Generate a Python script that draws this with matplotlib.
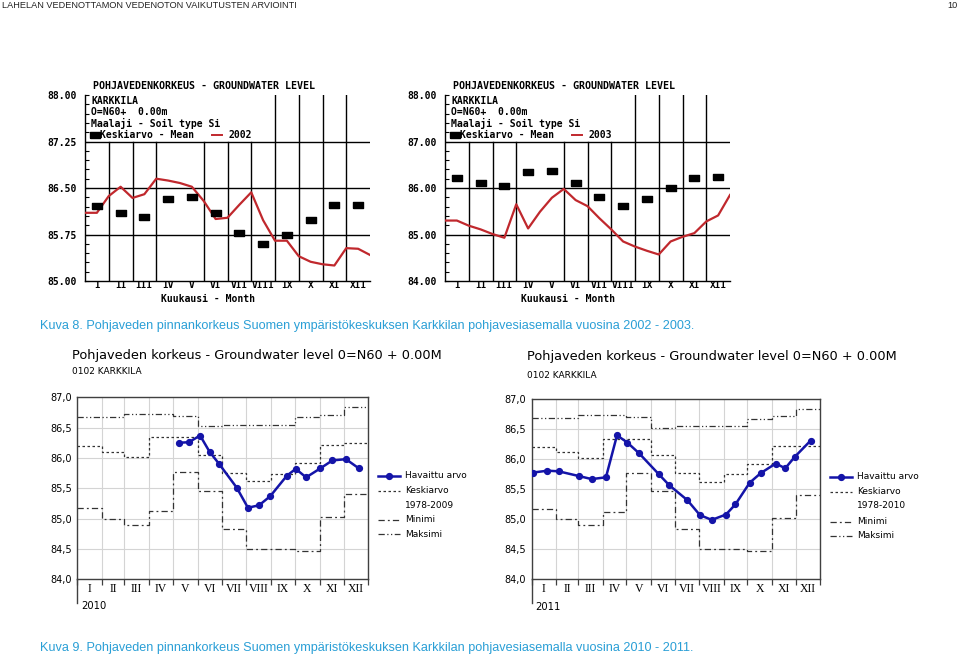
import numpy as np
import matplotlib
matplotlib.use('Agg')
import matplotlib.pyplot as plt
from matplotlib.lines import Line2D

W, H = 960, 654
fig = plt.figure(figsize=(9.6, 6.54), dpi=100)
fig.patch.set_facecolor('white')


def fx(px):
    return px / W


def fy(py):
    return 1 - py / H


# ---------------- data ----------------
months_roman = ['I', 'II', 'III', 'IV', 'V', 'VI', 'VII', 'VIII', 'IX', 'X', 'XI', 'XII']

# top charts: half-month positions (month units)
half_month_pos = np.arange(0, 12.5, 0.5)
level_2002 = [86.10, 86.10, 86.37, 86.52, 86.34, 86.40, 86.65, 86.62, 86.58, 86.52,
              86.29, 86.00, 86.02, 86.23, 86.43, 85.98, 85.65, 85.65, 85.40, 85.31,
              85.27, 85.25, 85.53, 85.52, 85.42]
level_2003 = [85.30, 85.30, 85.19, 85.11, 85.01, 84.93, 85.65, 85.13, 85.49, 85.79,
              85.98, 85.74, 85.61, 85.35, 85.11, 84.85, 84.74, 84.65, 84.57, 84.85,
              84.95, 85.03, 85.28, 85.41, 85.85]
mean_top_2002 = [86.21, 86.09, 86.03, 86.33, 86.36, 86.09, 85.78, 85.60, 85.75, 85.98, 86.22, 86.23]
mean_top_2003 = [86.21, 86.11, 86.04, 86.34, 86.37, 86.11, 85.80, 85.61, 85.76, 85.99, 86.21, 86.24]

# bottom charts: day of year
month_start_days = [0, 31, 59, 90, 120, 151, 181, 212, 243, 273, 304, 334, 365]

obs_days_2010 = [127, 140, 154, 166, 178, 200, 214, 228, 242, 263, 274, 287, 305, 320, 337, 353]
obs_vals_2010 = [86.25, 86.26, 86.37, 86.10, 85.90, 85.51, 85.18, 85.22, 85.37, 85.71, 85.82,
                 85.68, 85.83, 85.96, 85.98, 85.83]
mean_2010 = [86.20, 86.10, 86.02, 86.34, 86.34, 86.05, 85.76, 85.62, 85.73, 85.91, 86.21, 86.24]
min_2010 = [85.18, 85.00, 84.90, 85.12, 85.77, 85.46, 84.83, 84.50, 84.50, 84.47, 85.02, 85.40]
max_2010 = [86.68, 86.68, 86.73, 86.73, 86.70, 86.52, 86.55, 86.55, 86.55, 86.67, 86.71, 86.84]

obs_days_2011 = [2, 20, 34, 60, 76, 94, 108, 121, 136, 161, 174, 197, 213, 228, 246, 258,
                 276, 290, 309, 321, 333, 353]
obs_vals_2011 = [85.78, 85.81, 85.80, 85.72, 85.67, 85.70, 86.40, 86.28, 86.10, 85.75, 85.57,
                 85.32, 85.07, 84.99, 85.08, 85.25, 85.61, 85.77, 85.93, 85.85, 86.04, 86.31]
mean_2011 = [86.21, 86.12, 86.02, 86.34, 86.34, 86.07, 85.77, 85.62, 85.75, 85.92, 86.22, 86.23]
min_2011 = [85.18, 85.00, 84.91, 85.13, 85.78, 85.47, 84.84, 84.50, 84.50, 84.47, 85.03, 85.41]
max_2011 = [86.69, 86.69, 86.74, 86.74, 86.70, 86.53, 86.55, 86.55, 86.55, 86.68, 86.72, 86.84]

# ---------------- page texts ----------------
fig.text(fx(2), fy(5), 'LAHELAN VEDENOTTAMON VEDENOTON VAIKUTUSTEN ARVIOINTI',
         family=['Liberation Sans Narrow', 'Liberation Sans'], fontsize=6.6,
         va='center', ha='left', color='#222222')
fig.text(fx(958), fy(5), '10', family=['Liberation Sans Narrow', 'Liberation Sans'],
         fontsize=6.6, va='center', ha='right', color='#222222')

caption_color = '#2a9fd6'
fig.text(fx(40), fy(326),
         'Kuva 8. Pohjaveden pinnankorkeus Suomen ympäristökeskuksen Karkkilan pohjavesiasemalla vuosina 2002 - 2003.',
         family='Liberation Sans', fontsize=9.1, color=caption_color, va='center', ha='left')
fig.text(fx(40), fy(648),
         'Kuva 9. Pohjaveden pinnankorkeus Suomen ympäristökeskuksen Karkkilan pohjavesiasemalla vuosina 2010 - 2011.',
         family='Liberation Sans', fontsize=9.1, color=caption_color, va='center', ha='left')

MONO = 'DejaVu Sans Mono'
RED = '#c0282d'

# rectangular marker
rect_marker = [(-1.5, -1), (1.5, -1), (1.5, 1), (-1.5, 1), (-1.5, -1)]


def top_chart(off, rect, ylim, yticks, minor_step, mean_vals, line_vals, year):
    ax = fig.add_axes(rect)
    ax.set_xlim(0, 12)
    ax.set_ylim(*ylim)
    ax.patch.set_alpha(0)
    for s in ['top', 'right']:
        ax.spines[s].set_visible(False)
    ax.spines['left'].set_linewidth(1.0)
    ax.spines['bottom'].set_linewidth(1.0)
    ax.set_yticks(yticks)
    ax.set_yticklabels(['%.2f' % v for v in yticks], family=MONO, fontsize=7, fontweight='bold')
    ax.set_yticks(np.arange(ylim[0], ylim[1] + 1e-9, minor_step), minor=True)
    ax.tick_params(axis='y', which='both', direction='in', length=3, width=0.8, pad=6)
    ax.set_xticks([])
    centers = np.arange(12) + 0.5
    for c, lab in zip(centers, months_roman):
        ax.text(c, -0.026, lab, transform=ax.get_xaxis_transform(), ha='center', va='center',
                family=MONO, fontsize=6.8, fontweight='bold')
    # horizontal grid lines
    for v in yticks[1:-1]:
        ax.plot([0, 12], [v, v], color='black', lw=1.0, zorder=1)
    # vertical month lines
    for b in [1, 2, 3, 5, 6, 7]:
        ax.plot([b, b], [ylim[0], yticks[-2]], color='black', lw=1.0, zorder=1)
    for b in [8, 9, 10, 11]:
        ax.plot([b, b], [ylim[0], ylim[1]], color='black', lw=1.0, zorder=1)
    ax.plot(half_month_pos, line_vals, color=RED, lw=1.6, zorder=3)
    ax.plot(centers, mean_vals, linestyle='none', marker=rect_marker, markersize=7.5,
            color='black', zorder=4)
    # title and legend
    fig.text(fx(off + 164), fy(85.7), 'POHJAVEDENKORKEUS - GROUNDWATER LEVEL', family=MONO,
             fontsize=7.2, fontweight='bold', ha='center', va='center')
    fig.text(fx(off + 51), fy(100.7), 'KARKKILA', family=MONO, fontsize=7, fontweight='bold', va='center')
    fig.text(fx(off + 51), fy(112.3), 'O=N60+  0.00m', family=MONO, fontsize=7, fontweight='bold', va='center')
    fig.text(fx(off + 51), fy(123.3), 'Maalaji - Soil type Si', family=MONO, fontsize=7, fontweight='bold', va='center')
    fig.add_artist(Line2D([fx(off + 55)], [fy(135)], marker=rect_marker, markersize=7.5,
                          color='black', linestyle='none'))
    fig.text(fx(off + 60), fy(135), 'Keskiarvo - Mean', family=MONO, fontsize=7, fontweight='bold', va='center')
    fig.add_artist(Line2D([fx(off + 171.7), fx(off + 181.7)], [fy(135), fy(135)], color=RED, lw=1.4))
    fig.text(fx(off + 188.3), fy(135), year, family=MONO, fontsize=7, fontweight='bold', va='center')
    fig.text(fx(off + 168), fy(298.5), 'Kuukausi - Month', family=MONO, fontsize=7, fontweight='bold',
             ha='center', va='center')
    return ax


top_chart(40, [fx(85), fy(281), fx(370) - fx(85), fy(95) - fy(281)], (85.0, 88.0),
          [85.00, 85.75, 86.50, 87.25, 88.00], 0.15, mean_top_2002, level_2002, '2002')
top_chart(400, [fx(445), fy(281), fx(730) - fx(445), fy(95) - fy(281)], (84.0, 88.0),
          [84.00, 85.00, 86.00, 87.00, 88.00], 0.2, mean_top_2003, level_2003, '2003')

BLUE = '#1414a8'
GRAY = '#333333'
ls_mean = (0, (2, 2))
ls_min = (0, (5, 2.5, 1.5, 2.5))
ls_max = (0, (5, 2, 1, 2, 1, 2))


def bottom_chart(rect, obs_days, obs_vals, mean_vals, min_vals, max_vals, year, period,
                 title_x, title_y, sub_y, leg_x0, leg_ys, year_xy):
    ax = fig.add_axes(rect)
    ax.set_xlim(0, 365)
    ax.set_ylim(84.0, 87.0)
    for s in ax.spines.values():
        s.set_color('#404040')
        s.set_linewidth(1.0)
    ax.set_xticks(month_start_days)
    ax.set_xticklabels([])
    ax.set_xticks([(a + b) / 2 for a, b in zip(month_start_days[:-1], month_start_days[1:])], minor=True)
    ax.set_xticklabels(months_roman, minor=True, family='Liberation Serif', fontsize=8.5)
    ax.tick_params(axis='x', which='major', direction='out', length=4, width=0.9, color='#404040')
    ax.tick_params(axis='x', which='minor', length=0, pad=3)
    yt = [84.0, 84.5, 85.0, 85.5, 86.0, 86.5, 87.0]
    ax.set_yticks(yt)
    ax.set_yticklabels([('%.1f' % v).replace('.', ',') for v in yt], family='DejaVu Sans', fontsize=7)
    ax.tick_params(axis='y', length=0, pad=4)
    ax.grid(True, which='major', color='#d4d4d4', lw=0.8)
    ax.set_axisbelow(True)
    ax.plot([0, 0], [0, -0.13], transform=ax.transAxes, color='#404040', lw=1.0, clip_on=False)

    edges = month_start_days
    ax.step(edges, list(mean_vals) + [mean_vals[-1]], where='post', color=GRAY, lw=0.9, linestyle=ls_mean)
    ax.step(edges, list(min_vals) + [min_vals[-1]], where='post', color=GRAY, lw=0.9, linestyle=ls_min)
    ax.step(edges, list(max_vals) + [max_vals[-1]], where='post', color=GRAY, lw=0.9, linestyle=ls_max)
    ax.plot(obs_days, obs_vals, '-o', color=BLUE, lw=1.8, markersize=4.2, zorder=5)

    fig.text(fx(title_x), fy(title_y), 'Pohjaveden korkeus - Groundwater level 0=N60 + 0.00M',
             family='DejaVu Sans', fontsize=9.3, va='center', ha='left')
    fig.text(fx(title_x), fy(sub_y), '0102 KARKKILA', family='DejaVu Sans', fontsize=6.5,
             va='center', ha='left')
    fig.text(fx(year_xy[0]), fy(year_xy[1]), year, family='DejaVu Sans', fontsize=7.2,
             va='center', ha='left')

    lx0, lx1 = leg_x0, leg_x0 + 22
    tx = leg_x0 + 27
    fig.add_artist(Line2D([fx(lx0), fx(lx1)], [fy(leg_ys[0])] * 2, color=BLUE, lw=1.8))
    fig.add_artist(Line2D([fx((lx0 + lx1) / 2)], [fy(leg_ys[0])], color=BLUE, marker='o', markersize=4.2))
    fig.add_artist(Line2D([fx(lx0), fx(lx1)], [fy(leg_ys[1])] * 2, color=GRAY, lw=0.9, linestyle=ls_mean))
    fig.add_artist(Line2D([fx(lx0), fx(lx1)], [fy(leg_ys[3])] * 2, color=GRAY, lw=0.9, linestyle=ls_min))
    fig.add_artist(Line2D([fx(lx0), fx(lx1)], [fy(leg_ys[4])] * 2, color=GRAY, lw=0.9, linestyle=ls_max))
    labels = ['Havaittu arvo', 'Keskiarvo', period, 'Minimi', 'Maksimi']
    for lab, yy in zip(labels, leg_ys):
        fig.text(fx(tx), fy(yy), lab, family='DejaVu Sans', fontsize=6.5, va='center', ha='left')
    return ax


bottom_chart([fx(77.3), fy(579.3), fx(368.3) - fx(77.3), fy(397.3) - fy(579.3)],
             obs_days_2010, obs_vals_2010, mean_2010, min_2010, max_2010, '2010', '1978-2009',
             72, 355, 372, 378, [476, 490.7, 505, 520, 534.3], (81, 606))
bottom_chart([fx(531.7), fy(579.3), fx(820) - fx(531.7), fy(399.3) - fy(579.3)],
             obs_days_2011, obs_vals_2011, mean_2011, min_2011, max_2011, '2011', '1978-2010',
             526.7, 356.7, 375, 830, [476.7, 491.7, 505.7, 521.7, 536], (535, 606.7))

fig.savefig('out.png', dpi=100)
